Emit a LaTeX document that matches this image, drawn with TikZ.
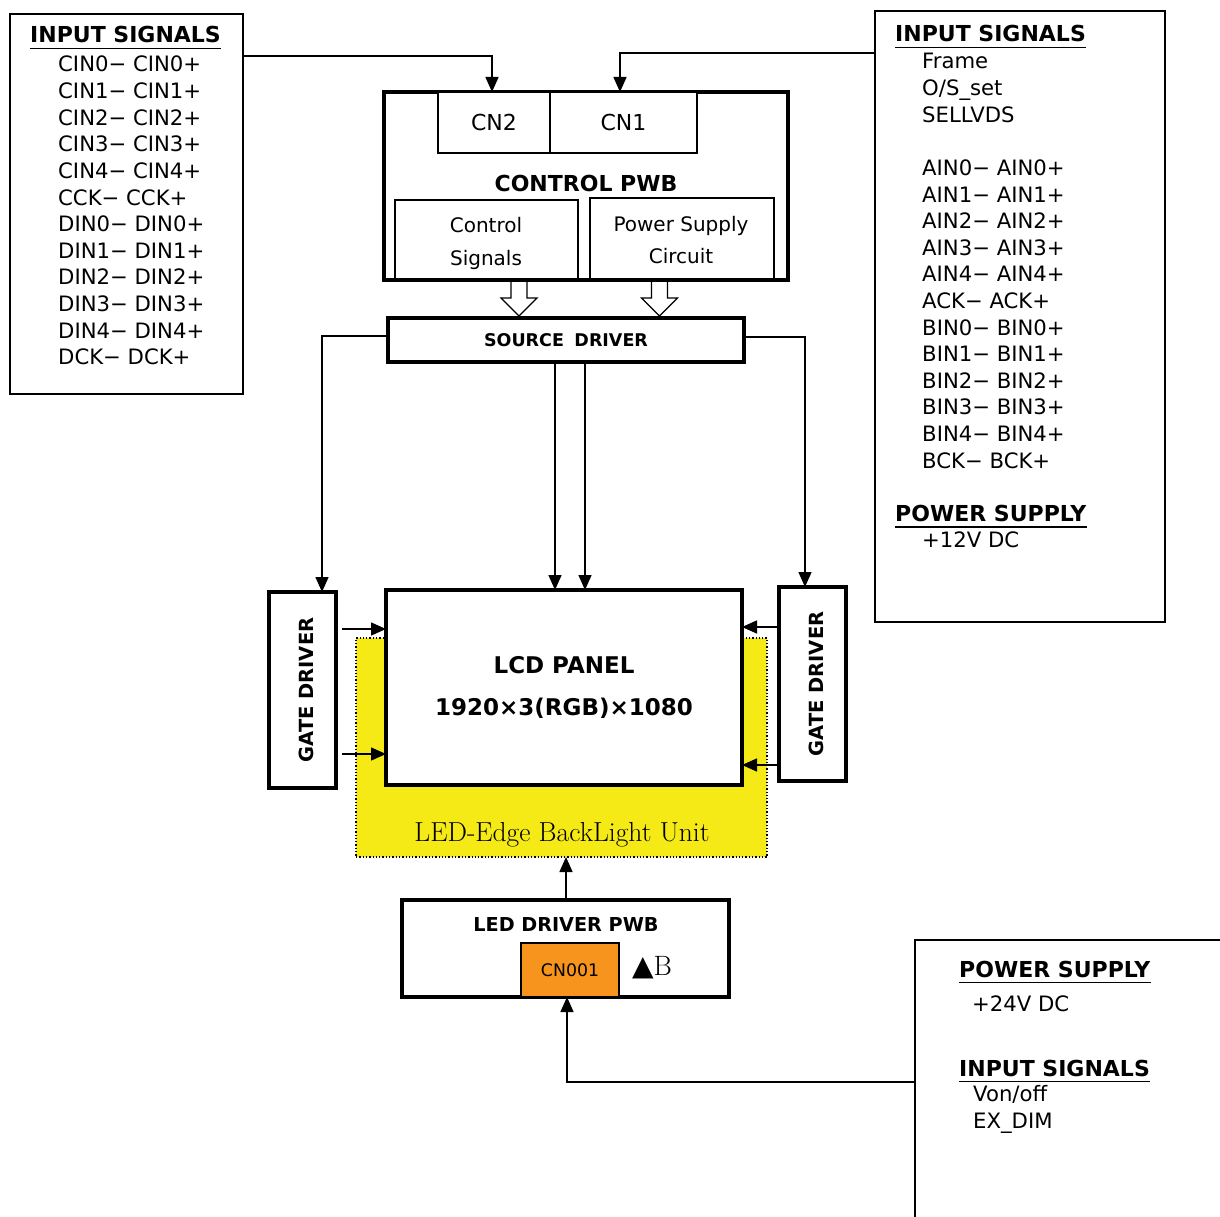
\documentclass[tikz,border=0pt]{standalone}
\usepackage{fontspec}
\newfontfamily\dv{DejaVu Sans}
\usetikzlibrary{arrows.meta,calc}
\definecolor{bly}{RGB}{245,234,22}
\definecolor{cnor}{RGB}{247,148,29}
\begin{document}
\begin{tikzpicture}[x=1pt,y=-1pt,
  box/.style={draw, fill=white, inner sep=0pt, outer sep=0pt, anchor=north west},
  thinb/.style={line width=1.6pt},
  thickb/.style={line width=3.6pt},
  arr/.style={line width=1.5pt, -{Triangle[length=15pt,width=13pt]}},
  reg/.style={font=\dv\fontsize{21.2}{25}\selectfont, inner sep=0pt, anchor=base west},
  hd/.style={font=\dv\bfseries\fontsize{22}{26}\selectfont, inner sep=0pt, anchor=base west},
  ul/.style={line width=1.8pt},
  bfl/.style={font=\dv\bfseries\fontsize{#1}{#1}\selectfont, inner sep=0pt},
  rgl/.style={font=\dv\fontsize{#1}{#1}\selectfont, inner sep=0pt},
  blockarr/.style={line width=1.2pt, fill=white}
]
\clip (0,0) rectangle (1220,1217);
\fill[white] (0,0) rectangle (1220,1217);

% ---------- left input box ----------
\node[box, thinb, minimum width=233pt, minimum height=380pt] (inL) at (10,14) {};
\node[hd] (hL) at (30,43) {INPUT SIGNALS};
\draw[ul] ([yshift=-5.5pt]hL.base west) -- ([yshift=-5.5pt]hL.base east);
\foreach \s [count=\i from 0] in {CIN0,CIN1,CIN2,CIN3,CIN4,CCK,DIN0,DIN1,DIN2,DIN3,DIN4,DCK}
  \node[reg] (l\i) at (58,{72+26.6*\i}) {\s− \s+};

% ---------- right input box ----------
\node[box, thinb, minimum width=290pt, minimum height=611pt] (inR) at (875,11) {};
\node[hd] (hR) at (895,42) {INPUT SIGNALS};
\draw[ul] ([yshift=-5.5pt]hR.base west) -- ([yshift=-5.5pt]hR.base east);
\node[reg] (r0) at (922,69) {Frame};
\node[reg] (r1) at (922,95.6) {O/S\_set};
\node[reg] (r2) at (922,122.2) {SELLVDS};
\foreach \s [count=\i from 4] in {AIN0,AIN1,AIN2,AIN3,AIN4,ACK,BIN0,BIN1,BIN2,BIN3,BIN4,BCK}
  \node[reg] (r\i) at (922,{69+26.6*\i}) {\s− \s+};
\node[hd] (hP) at (895,521.2) {POWER SUPPLY};
\draw[ul] ([yshift=-5.5pt]hP.base west) -- ([yshift=-5.5pt]hP.base east);
\node[reg] (r18) at (922,547.8) {+12V DC};

% ---------- control PWB ----------
\node[box, thickb, minimum width=404pt, minimum height=188pt] (pwb) at (384,92) {};
\node[box, thinb, minimum width=112pt, minimum height=61pt, font=\dv\fontsize{22}{22}\selectfont] (cn2) at (438,92) {CN2};
\node[box, thinb, minimum width=147pt, minimum height=61pt, font=\dv\fontsize{22}{22}\selectfont] (cn1) at (550,92) {CN1};
\node[bfl=22] (pwbt) at (586,183) {CONTROL PWB};
\node[box, thinb, minimum width=183pt, minimum height=79pt] (cs) at (395,200) {};
\node[box, thinb, minimum width=184pt, minimum height=81pt] (ps) at (590,198) {};
\draw[line width=3.6pt] (pwb.south west) -- (pwb.south east);
\node[rgl=20, anchor=base] (cs1) at (486,233) {Control};
\node[rgl=20, anchor=base] (cs2) at (486,265) {Signals};
\node[rgl=20, anchor=base] (ps1) at (681,231) {Power Supply};
\node[rgl=20, anchor=base] (ps2) at (681,263) {Circuit};

% block arrows
\foreach \bx in {519,659.5}
  \draw[blockarr] (\bx-8,282) -- (\bx-8,298) -- (\bx-18,298) -- (\bx,316) -- (\bx+18,298) -- (\bx+8,298) -- (\bx+8,282);

% ---------- source driver ----------
\node[box, thickb, minimum width=356pt, minimum height=44pt, font=\dv\bfseries\fontsize{17.5}{17.5}\selectfont] (sd) at (388,318) {SOURCE\hspace{0.6em}DRIVER};

% input connectors
\draw[arr] ([yshift=-42pt]inL.north east) -| ([xshift=-2pt]cn2.north);
\draw[arr] ([yshift=-42pt]inR.north west) -| ([xshift=-3.5pt]cn1.north);

% ---------- backlight ----------
\node[box, draw=black, fill=bly, line width=1.3pt, dotted, minimum width=411pt, minimum height=219pt] (bl) at (356,638) {};
\node[font=\fontsize{27.5}{27.5}\selectfont, inner sep=0pt, anchor=base] (blt) at (562,841) {LED-Edge BackLight Unit};

% ---------- LCD panel ----------
\node[box, line width=4pt, minimum width=356pt, minimum height=195pt] (lcd) at (386,590) {};
\node[bfl=23, anchor=base] (lcd1) at (564,673) {LCD PANEL};
\node[bfl=23, anchor=base] (lcd2) at (564,715.5) {1920×3(RGB)×1080};

% ---------- gate drivers ----------
\node[box, thickb, minimum width=67pt, minimum height=196pt] (gdL) at (269,592) {};
\node[box, thickb, minimum width=67pt, minimum height=194pt] (gdR) at (779,587) {};
\node[bfl=19.5, rotate=90] (gdLt) at ([xshift=4pt]gdL.center) {GATE DRIVER};
\node[bfl=19.5, rotate=90] (gdRt) at ([xshift=4pt]gdR.center) {GATE DRIVER};

% source driver connectors
\draw[arr] ([yshift=4pt]sd.west) -| ([xshift=19.5pt]gdL.north);
\draw[arr] ([yshift=3pt]sd.east) -| ([xshift=-7.5pt]gdR.north);
\draw[arr] ([xshift=-11pt]sd.south) -- ([xshift=-11pt]sd.south |- lcd.north);
\draw[arr] ([xshift=19pt]sd.south) -- ([xshift=19pt]sd.south |- lcd.north);

% gate driver to panel
\coordinate (gl1) at ($(gdL.north east)+(6,37)$);
\coordinate (gl2) at ($(gdL.north east)+(6,162)$);
\coordinate (gr1) at ($(gdR.north west)+(0,40)$);
\coordinate (gr2) at ($(gdR.north west)+(0,178)$);
\draw[arr] (gl1) -- (gl1 -| lcd.west);
\draw[arr] (gl2) -- (gl2 -| lcd.west);
\draw[arr] (gr1) -- (gr1 -| lcd.east);
\draw[arr] (gr2) -- (gr2 -| lcd.east);

% ---------- LED driver ----------
\node[box, thickb, minimum width=327pt, minimum height=97pt] (ld) at (402,900) {};
\node[bfl=19.2, anchor=base] (ldt) at (566,931) {LED DRIVER PWB};
\node[box, thinb, fill=cnor, minimum width=98pt, minimum height=54pt, font=\dv\fontsize{17.3}{17.3}\selectfont] (cn001) at (521,943) {CN001};
\node[inner sep=0pt, anchor=base west] (mk) at (632,975) {{\dv\fontsize{28}{28}\selectfont ▲}{\fontsize{28}{28}\selectfont B}};
\draw[arr] ([xshift=0.5pt]ld.north) -- ([xshift=0.5pt]ld.north |- bl.south);

% ---------- bottom right box ----------
\node[box, thinb, minimum width=400pt, minimum height=284pt] (inB) at (915,940) {};
\node[hd] (hB1) at (959,977) {POWER SUPPLY};
\draw[ul] ([yshift=-5.5pt]hB1.base west) -- ([yshift=-5.5pt]hB1.base east);
\node[reg] (b1) at (972,1011) {+24V DC};
\node[hd] (hB2) at (959,1076) {INPUT SIGNALS};
\draw[ul] ([yshift=-5.5pt]hB2.base west) -- ([yshift=-5.5pt]hB2.base east);
\node[reg] (b2) at (973,1101) {Von/off};
\node[reg] (b3) at (973,1128) {EX\_DIM};
\draw[arr] (inB.west) -| ([xshift=-3pt]cn001.south);
\end{tikzpicture}
\end{document}
